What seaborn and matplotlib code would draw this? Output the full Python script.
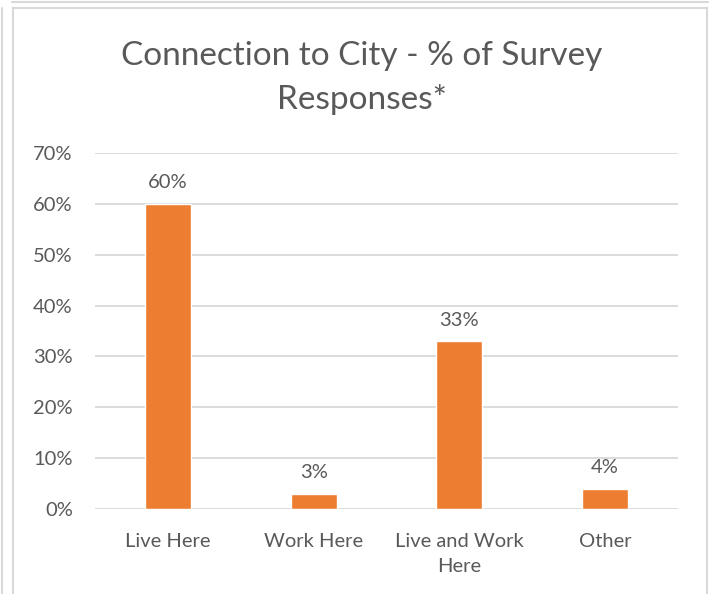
import matplotlib
matplotlib.use("Agg")
import matplotlib.pyplot as plt
from matplotlib.lines import Line2D
from matplotlib.patches import Rectangle
from matplotlib.ticker import FuncFormatter, MultipleLocator
import pandas as pd
import seaborn as sns

categories = ["Live Here", "Work Here", "Live and Work\nHere", "Other"]
shares = [60, 3, 33, 4]
title = "Connection to City - % of Survey\nResponses*"

sns.set_theme(style="white")
plt.rcParams["font.family"] = ["Lato", "DejaVu Sans"]

TEXT = "#595959"
GRID = "#D9D9D9"
BAR = "#ED7D31"

W, H = 712, 594
fig = plt.figure(figsize=(W / 100, H / 100), dpi=100)
fig.patch.set_facecolor("white")

ax = fig.add_axes([95 / W, 1 - 509 / H, (678 - 95) / W, (509 - 153) / H])

df = pd.DataFrame({"category": categories, "share": shares})
sns.barplot(data=df, x="category", y="share", color=BAR, width=0.315,
            saturation=1, ax=ax, zorder=3)

ax.set_xlim(-0.5, len(categories) - 0.5)
ax.set_ylim(0, 70)
ax.yaxis.set_major_locator(MultipleLocator(10))
ax.yaxis.set_major_formatter(FuncFormatter(lambda v, _: f"{v:.0f}%"))
ax.grid(axis="y", color=GRID, linewidth=1.3, zorder=0)
ax.set_axisbelow(True)
for side in ax.spines.values():
    side.set_visible(False)
ax.set_xlabel("")
ax.set_ylabel("")
ax.tick_params(axis="both", length=0, labelsize=14.5, colors=TEXT)
ax.tick_params(axis="y", pad=16)
ax.tick_params(axis="x", pad=17)
for lbl in ax.get_xticklabels():
    lbl.set_linespacing(1.6)

ax.bar_label(ax.containers[0], labels=[f"{v}%" for v in shares],
             padding=9, fontsize=14.5, color=TEXT)

fig.text(0.508, 1 - 78 / H, title, ha="center", va="center",
         fontsize=24, color=TEXT, linespacing=1.55)

# chart frame and neighbouring panel edges
fig.add_artist(Rectangle((12.5 / W, -0.05), (706.5 - 12.5) / W, 1.05 - 7.5 / H,
                         transform=fig.transFigure, fill=False,
                         edgecolor=GRID, linewidth=1.5))
fig.add_artist(Line2D([12 / W, 708 / W], [1 - 2 / H, 1 - 2 / H],
                      transform=fig.transFigure, color=GRID, linewidth=1.5))
fig.add_artist(Line2D([2 / W, 2 / W], [0, 1 - 8 / H],
                      transform=fig.transFigure, color=GRID, linewidth=1.5))

fig.savefig("out.png", dpi=100)
